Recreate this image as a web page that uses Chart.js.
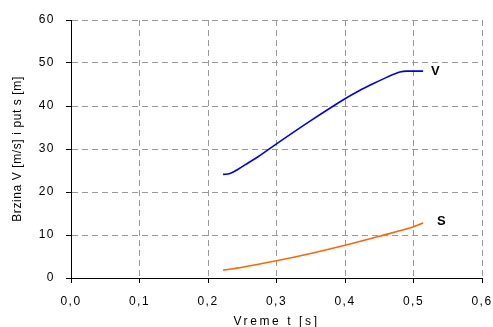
<!DOCTYPE html>
<html>
<head>
<meta charset="utf-8">
<script src="https://cdn.jsdelivr.net/npm/chart.js@4/dist/chart.umd.min.js"></script>
<style>
  html, body { margin: 0; padding: 0; background: #fff; }
  #wrap { width: 493px; height: 327px; }
</style>
</head>
<body>
<div id="wrap"><canvas id="chart" width="493" height="327"></canvas></div>
<script>
// values
var timeV = [0.222, 0.232, 0.244, 0.259, 0.273, 0.30, 0.35, 0.40, 0.42, 0.44, 0.46, 0.47, 0.48, 0.49, 0.50, 0.514];
var speedV = [24.1, 24.3, 25.3, 26.8, 28.2, 31.2, 36.6, 41.7, 43.5, 45.1, 46.6, 47.3, 47.9, 48.1, 48.1, 48.1];
var timeS = [0.222, 0.25, 0.30, 0.35, 0.40, 0.45, 0.50, 0.514];
var pathS = [1.8, 2.5, 4.0, 5.7, 7.6, 9.7, 11.9, 12.8];
var seriesNames = ['V', 'S'];
var xTicks = [0, 0.1, 0.2, 0.3, 0.4, 0.5, 0.6];
var yTicks = [0, 10, 20, 30, 40, 50, 60];

function toPoints(xs, ys) {
    return xs.map(function (x, i) { return { x: x, y: ys[i] }; });
}

var fontFamily = '"Liberation Sans", Arial, sans-serif';

// letter spacing per axis title, like the exported original
function spreadTitle(scale, spacing) {
    if (scale._spread) return;
    scale._spread = true;
    var orig = scale.drawTitle;
    scale.drawTitle = function () {
        var c = this.ctx, old = c.letterSpacing;
        c.letterSpacing = spacing;
        orig.apply(this, arguments);
        c.letterSpacing = old;
    };
}

var endLabels = {
    id: 'endLabels',
    beforeDraw: function (chart) {
        chart.ctx.letterSpacing = '1.5px';
    },
    afterDatasetsDraw: function (chart) {
        var ctx = chart.ctx;
        var offsets = [[8, 0], [14, -2]];
        ctx.save();
        ctx.letterSpacing = '0px';
        ctx.font = 'bold 13px ' + fontFamily;
        ctx.fillStyle = '#000';
        ctx.textBaseline = 'middle';
        ctx.textAlign = 'left';
        chart.data.datasets.forEach(function (ds, i) {
            var meta = chart.getDatasetMeta(i);
            var last = meta.data[meta.data.length - 1];
            ctx.fillText(seriesNames[i], last.x + offsets[i][0], last.y + offsets[i][1]);
        });
        ctx.restore();
    }
};

var ctx = document.getElementById('chart').getContext('2d');
var chart = new Chart(ctx, {
    type: 'line',
    data: {
        datasets: [{
            label: seriesNames[0],
            data: toPoints(timeV, speedV),
            borderColor: '#0000ee',
            borderWidth: 1.6,
            pointRadius: 0,
            cubicInterpolationMode: 'monotone',
            fill: false
        }, {
            label: seriesNames[1],
            data: toPoints(timeS, pathS),
            borderColor: '#ff6600',
            borderWidth: 1.6,
            pointRadius: 0,
            cubicInterpolationMode: 'monotone',
            fill: false
        }]
    },
    options: {
        responsive: false,
        animation: false,
        layout: { padding: { top: 20, right: 11, left: 0, bottom: 0 } },
        plugins: {
            legend: { display: false },
            tooltip: { enabled: false }
        },
        scales: {
            x: {
                type: 'linear',
                min: 0,
                max: 0.6,
                afterBuildTicks: function (scale) {
                    scale.ticks = xTicks.map(function (v) { return { value: v }; });
                },
                afterFit: function (scale) {
                    scale.height = 49;
                    scale.paddingLeft = 0;
                    scale.paddingRight = 0;
                    spreadTitle(scale, '2.6px');
                },
                ticks: {
                    color: '#000',
                    padding: 11,
                    maxRotation: 0,
                    font: { family: fontFamily, size: 12 },
                    callback: function (v) { return v.toFixed(1).replace('.', ','); }
                },
                grid: { color: '#9a9a9a', tickColor: '#000', tickLength: 5 },
                border: { color: '#000', dash: [6, 4] },
                title: {
                    display: true,
                    text: 'Vreme t [s]',
                    color: '#000',
                    padding: { top: 0, bottom: -2 },
                    font: { family: fontFamily, size: 12 }
                }
            },
            y: {
                min: 0,
                max: 60,
                afterBuildTicks: function (scale) {
                    scale.ticks = yTicks.map(function (v) { return { value: v }; });
                },
                afterFit: function (scale) {
                    scale.width = 71;
                    scale.paddingTop = 0;
                    scale.paddingBottom = 0;
                    spreadTitle(scale, '0.6px');
                },
                ticks: {
                    color: '#000',
                    padding: 11,
                    font: { family: fontFamily, size: 12 }
                },
                grid: { color: '#9a9a9a', tickColor: '#000', tickLength: 5 },
                border: { color: '#000', dash: [6, 4] },
                title: {
                    display: true,
                    text: 'Brzina V [m/s] i put s [m]',
                    color: '#000',
                    padding: { top: 10, bottom: 0 },
                    font: { family: fontFamily, size: 12 }
                }
            }
        }
    },
    plugins: [endLabels]
});
</script>
</body>
</html>
